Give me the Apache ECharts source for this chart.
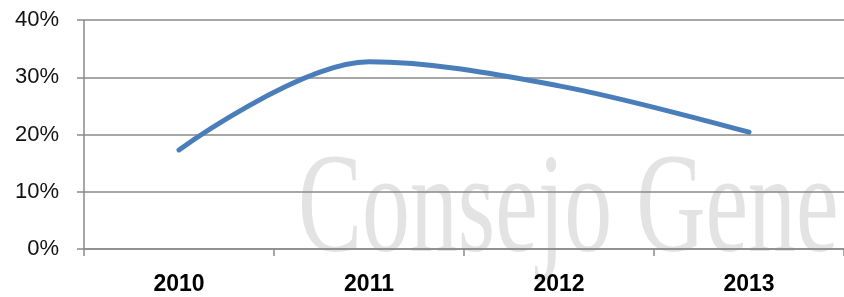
<!DOCTYPE html>
<html>
<head>
<meta charset="utf-8">
<script src="https://cdn.jsdelivr.net/npm/echarts@6/dist/echarts.min.js"></script>
<style>
html,body{margin:0;padding:0;background:#fff;}
#chart{width:844px;height:297px;}
</style>
</head>
<body>
<div id="chart"></div>
<script>
const categories = ['2010', '2011', '2012', '2013'];
const values = [17.3, 32.7, 28.5, 20.4];
const yTicks = { min: 0, max: 40, interval: 10 };

const chart = echarts.init(document.getElementById('chart'), null, { renderer: 'canvas' });
chart.setOption({
  animation: false,
  backgroundColor: '#ffffff',
  grid: { left: 84, right: -2, top: 20, bottom: 48, containLabel: false },
  graphic: [{
    type: 'text',
    z: -10,
    x: 298,
    y: 214,
    scaleX: 0.68,
    silent: true,
    style: {
      text: 'Consejo Gene',
      x: 0, y: 0,
      fill: '#e3e3e3',
      font: '141px "Liberation Serif", "DejaVu Serif", serif',
      verticalAlign: 'middle',
      align: 'left'
    }
  }],
  xAxis: {
    type: 'category',
    data: categories,
    boundaryGap: true,
    axisLine: { show: true, lineStyle: { color: '#8a8a8a', width: 1.5 } },
    axisTick: { show: true, length: 7, lineStyle: { color: '#8a8a8a', width: 1.5 } },
    axisLabel: {
      margin: 24,
      color: '#000',
      fontSize: 23,
      fontWeight: 'bold',
      fontFamily: '"Liberation Sans", Arial, sans-serif'
    },
    splitLine: { show: false }
  },
  yAxis: {
    type: 'value',
    min: yTicks.min,
    max: yTicks.max,
    interval: yTicks.interval,
    axisLine: { show: true, lineStyle: { color: '#8a8a8a', width: 1.5 } },
    axisTick: { show: true, length: 7, lineStyle: { color: '#8a8a8a', width: 1.5 } },
    axisLabel: {
      margin: 25,
      formatter: '{value}%',
      color: '#111',
      fontSize: 22,
      fontFamily: '"Liberation Sans", Arial, sans-serif'
    },
    splitLine: { show: true, lineStyle: { color: '#8a8a8a', width: 1.5 } }
  },
  series: [{
    type: 'line',
    data: values,
    smooth: 0.34,
    smoothMonotone: 'none',
    showSymbol: false,
    symbol: 'none',
    lineStyle: { color: '#4a7ebb', width: 5, cap: 'round', join: 'round' },
    z: 5
  }]
});
</script>
</body>
</html>
